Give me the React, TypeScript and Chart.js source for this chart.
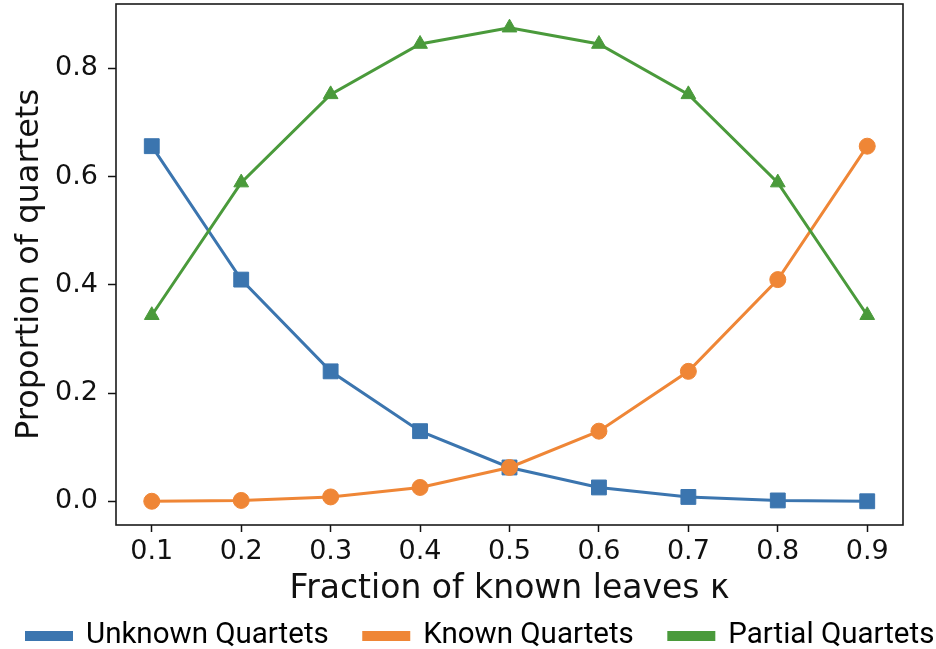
import React, { useEffect, useRef } from "react";
import { Chart, registerables } from "chart.js";

Chart.register(...registerables);

const kappa = [0.1, 0.2, 0.3, 0.4, 0.5, 0.6, 0.7, 0.8, 0.9];
const unknownQuartets = [0.6561, 0.4096, 0.2401, 0.1296, 0.0625, 0.0256, 0.0081, 0.0016, 0.0001];
const knownQuartets = [0.0001, 0.0016, 0.0081, 0.0256, 0.0625, 0.1296, 0.2401, 0.4096, 0.6561];
const partialQuartets = [0.3438, 0.5888, 0.7518, 0.8448, 0.875, 0.8448, 0.7518, 0.5888, 0.3438];
const seriesLabels = ["Unknown Quartets", "Known Quartets", "Partial Quartets"];
const xTickValues = [0.1, 0.2, 0.3, 0.4, 0.5, 0.6, 0.7, 0.8, 0.9];
const yTickValues = [0.0, 0.2, 0.4, 0.6, 0.8];
const xTitle = "Fraction of known leaves κ";
const yTitle = "Proportion of quartets";

const BLUE = "#3b75af";
const ORANGE = "#ef8636";
const GREEN = "#4a9a3b";

const frame = {
  id: "frame",
  afterDatasetsDraw(chart: any) {
    const { ctx, chartArea: a } = chart;
    ctx.save();
    ctx.strokeStyle = "#1a1a1a";
    ctx.lineWidth = 1.6;
    ctx.strokeRect(a.left, a.top, a.right - a.left, a.bottom - a.top);
    ctx.restore();
  },
};

const bottomLegend = {
  id: "bottomLegend",
  afterDraw(chart: any) {
    const { ctx } = chart;
    ctx.save();
    ctx.font = "29.5px Roboto";
    ctx.textBaseline = "middle";
    ctx.textAlign = "left";
    let x = 25;
    const cy = 636;
    chart.data.datasets.forEach((ds: any) => {
      ctx.fillStyle = ds.borderColor;
      ctx.fillRect(x, cy - 5, 48, 10);
      ctx.fillStyle = "#000";
      ctx.fillText(ds.label, x + 61, cy);
      x += 61 + ctx.measureText(ds.label).width + 33.5;
    });
    ctx.restore();
  },
};

export default function App() {
  const ref = useRef<HTMLCanvasElement>(null);
  useEffect(() => {
    if (!ref.current) return;
    const mk = (ys: number[]) => kappa.map((k, i) => ({ x: k, y: ys[i] }));
    const chart = new Chart(ref.current, {
      type: "line",
      data: {
        datasets: [
          {
            label: seriesLabels[0],
            data: mk(unknownQuartets),
            borderColor: BLUE,
            backgroundColor: BLUE,
            pointStyle: "rect",
            pointRadius: 10.5,
            borderWidth: 3,
            pointBorderWidth: 1,
            order: 2,
          },
          {
            label: seriesLabels[1],
            data: mk(knownQuartets),
            borderColor: ORANGE,
            backgroundColor: ORANGE,
            pointStyle: "circle",
            pointRadius: 8,
            borderWidth: 3,
            pointBorderWidth: 1,
            order: 1,
          },
          {
            label: seriesLabels[2],
            data: mk(partialQuartets),
            borderColor: GREEN,
            backgroundColor: GREEN,
            pointStyle: "triangle",
            pointRadius: 8.5,
            borderWidth: 3,
            pointBorderWidth: 1,
            order: 0,
          },
        ],
      },
      options: {
        animation: false,
        responsive: false,
        events: [],
        layout: { autoPadding: false, padding: { left: 0, right: 33, top: 4, bottom: 40 } },
        plugins: { legend: { display: false }, tooltip: { enabled: false } },
        scales: {
          x: {
            type: "linear",
            min: 0.06,
            max: 0.94,
            afterBuildTicks: (s: any) => {
              s.ticks = xTickValues.map((v) => ({ value: v }));
            },
            afterFit: (s: any) => {
              s.height = 84;
              s.paddingLeft = 0;
              s.paddingRight = 0;
            },
            ticks: {
              callback: (v: any) => Number(v).toFixed(1),
              font: { family: "DejaVu Sans", size: 27 },
              color: "#111",
              padding: 4,
              maxRotation: 0,
              autoSkip: false,
            },
            grid: { display: true, drawOnChartArea: false, drawTicks: true, tickLength: 7, tickColor: "#111", tickWidth: 1.5 },
            border: { display: false },
            title: {
              display: true,
              text: xTitle,
              font: { family: "DejaVu Sans", size: 33, lineHeight: 0 },
              color: "#111",
              padding: { top: 0, bottom: 20 },
            },
          },
          y: {
            type: "linear",
            min: -0.04375,
            max: 0.91875,
            afterBuildTicks: (s: any) => {
              s.ticks = yTickValues.map((v) => ({ value: v }));
            },
            afterFit: (s: any) => {
              s.width = 116;
              s.paddingTop = 0;
              s.paddingBottom = 0;
            },
            ticks: {
              callback: (v: any) => Number(v).toFixed(1),
              font: { family: "DejaVu Sans", size: 27 },
              color: "#111",
              padding: 10,
            },
            grid: { display: true, drawOnChartArea: false, drawTicks: true, tickLength: 8, tickColor: "#111", tickWidth: 1.5 },
            border: { display: false },
            title: {
              display: true,
              text: yTitle,
              font: { family: "DejaVu Sans", size: 32, lineHeight: 0 },
              color: "#111",
              padding: { top: 30, bottom: 0 },
            },
          },
        },
      },
      plugins: [frame, bottomLegend],
    });
    return () => chart.destroy();
  }, []);
  return (
    <div style={{ position: "absolute", left: 0, top: 0, width: 936, height: 649, background: "#fff" }}>
      <canvas ref={ref} width={936} height={649} style={{ display: "block" }} />
    </div>
  );
}
